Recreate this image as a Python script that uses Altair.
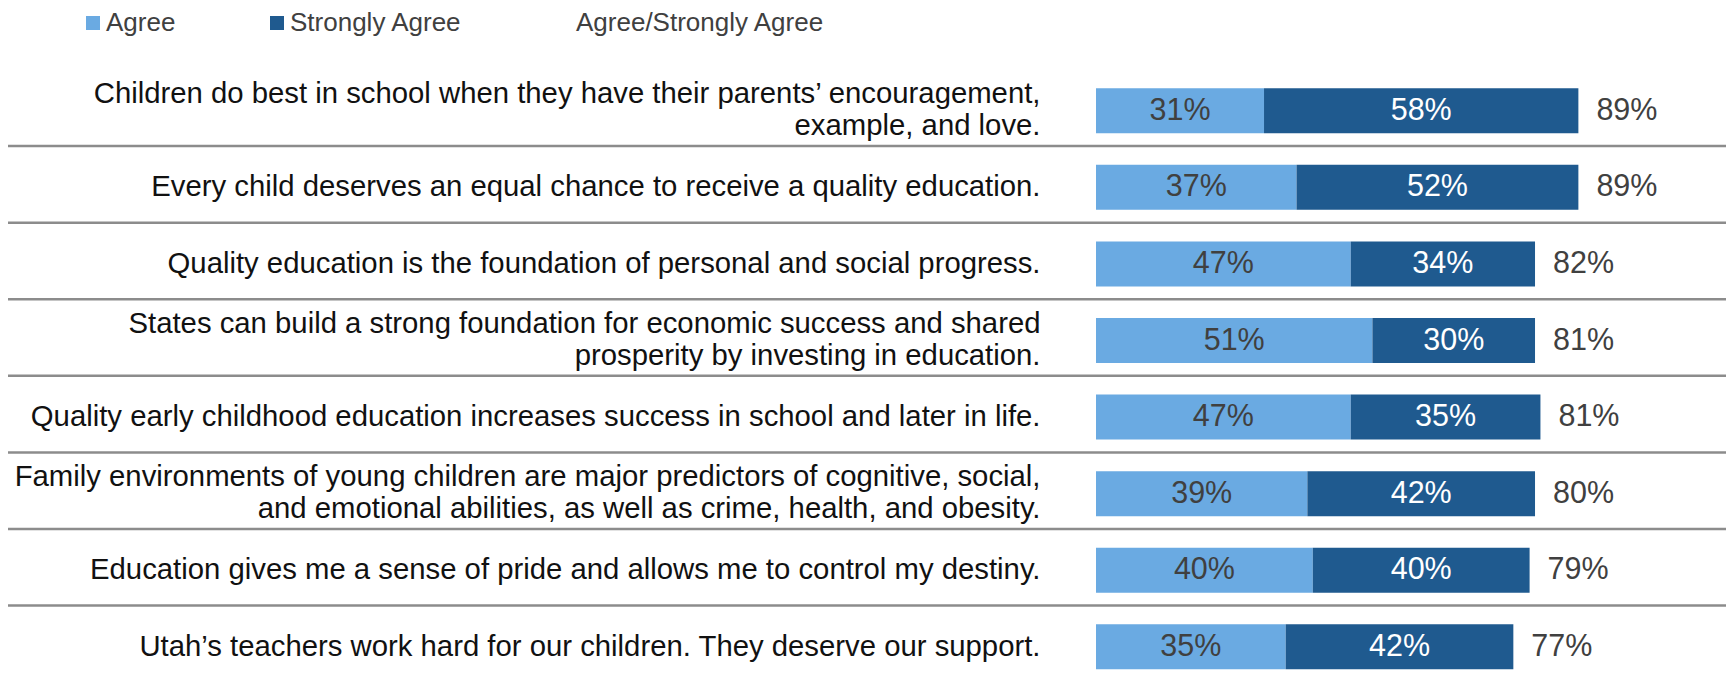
import altair as alt
import pandas as pd

statements = [
    "Children do best in school when they have their parents’ encouragement,\nexample, and love.",
    "Every child deserves an equal chance to receive a quality education.",
    "Quality education is the foundation of personal and social progress.",
    "States can build a strong foundation for economic success and shared\nprosperity by investing in education.",
    "Quality early childhood education increases success in school and later in life.",
    "Family environments of young children are major predictors of cognitive, social,\nand emotional abilities, as well as crime, health, and obesity.",
    "Education gives me a sense of pride and allows me to control my destiny.",
    "Utah’s teachers work hard for our children. They deserve our support.",
]
agree = [31, 37, 47, 51, 47, 39, 40, 35]
strongly = [58, 52, 34, 30, 35, 42, 40, 42]
combined = [89, 89, 82, 81, 81, 80, 79, 77]
series = ["Agree", "Strongly Agree", "Agree/Strongly Agree"]
colors = ["#6AAAE2", "#1F5A8F", "rgba(0,0,0,0)"]

FONT = "Liberation Sans"

long_rows = []
for i, s in enumerate(statements):
    long_rows.append({"statement": s, "series": series[0], "value": agree[i], "ord": 0})
    long_rows.append({"statement": s, "series": series[1], "value": strongly[i], "ord": 1})
long_df = pd.DataFrame(long_rows)

wide_df = pd.DataFrame({"statement": statements, "agree": agree,
                        "strongly": strongly, "combined": combined})
rule_df = pd.DataFrame({"statement": statements[1:]})

y_axis = alt.Axis(title=None, domain=False, ticks=False, grid=False,
                  labelFont=FONT, labelFontSize=29.3, labelColor="#111111",
                  labelPadding=56, labelLimit=1100, labelLineHeight=32,
                  labelBaseline={"condition": {"test": "indexof(datum.value, '\\n') >= 0",
                                               "value": "line-bottom"},
                                 "value": "middle"},
                  labelExpr="split(datum.label, '\\n')")
y_scale = alt.Scale(domain=statements, range=[0, 612.6], paddingInner=0, paddingOuter=0)


def y_enc(**kw):
    return alt.Y("statement:N", sort=statements, scale=y_scale, axis=y_axis, **kw)


x_scale = alt.Scale(domain=[0, 100], nice=False, zero=True)

bars = alt.Chart(long_df).mark_bar(size=45).encode(
    y=y_enc(),
    x=alt.X("value:Q", stack="zero", scale=x_scale, axis=None),
    color=alt.Color("series:N", scale=alt.Scale(domain=series, range=colors),
                    legend=alt.Legend(orient="none", legendX=-1016, legendY=-62.5,
                                      direction="horizontal", title=None,
                                      symbolType="square", symbolSize=196,
                                      symbolStrokeWidth=0, labelFont=FONT,
                                      labelFontSize=26, labelColor="#404040",
                                      labelOffset=0, columnPadding=88, padding=0,
                                      labelLimit=400)),
    order=alt.Order("ord:Q"),
)

seg_text = alt.Chart(long_df).transform_stack(
    stack="value", groupby=["statement"], as_=["v0", "v1"],
    sort=[alt.SortField("ord", order="ascending")]
).transform_calculate(
    mid="(datum.v0 + datum.v1) / 2", lab="datum.value + '%'"
).mark_text(font=FONT, fontSize=30.5, baseline="middle", align="center").encode(
    y=y_enc(),
    x=alt.X("mid:Q", scale=x_scale, axis=None),
    text="lab:N",
    color=alt.condition(alt.datum.series == "Agree", alt.value("#404040"), alt.value("#ffffff")),
)

total_text = alt.Chart(wide_df).transform_calculate(
    end="datum.agree + datum.strongly", lab="datum.combined + '%'"
).mark_text(font=FONT, fontSize=30.5, baseline="middle", align="left", dx=18,
            color="#404040").encode(
    y=y_enc(),
    x=alt.X("end:Q", scale=x_scale, axis=None),
    text="lab:N",
)

rules = alt.Chart(rule_df).mark_rule(color="#8c8c8c", strokeWidth=2.5, yOffset=-3).encode(
    y=y_enc(bandPosition=0),
    x=alt.value(-1088),
    x2=alt.value(630),
)

chart = alt.layer(bars, seg_text, total_text, rules).properties(
    width=542, height=600,
    background="white",
    autosize=alt.AutoSizeParams(type="none"),
    padding={"left": 1088, "top": 64.5, "right": 88, "bottom": 8},
).configure_view(stroke=None)

chart.save("out.html", embed_options={"renderer": "svg", "actions": False})
